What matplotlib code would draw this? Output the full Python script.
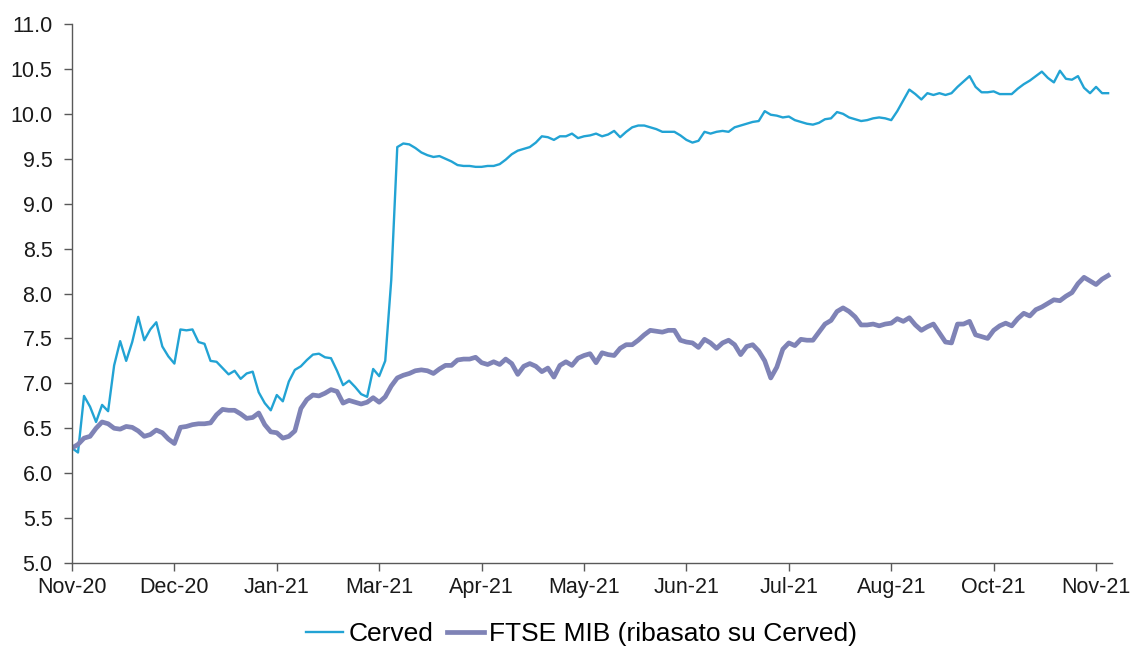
import numpy as np
import matplotlib
matplotlib.use("Agg")
import matplotlib.pyplot as plt

plt.rcParams['font.family'] = ['Liberation Sans', 'DejaVu Sans']

# tick labels shown every 17 points on the category axis
month_labels = ["Nov-20", "Dec-20", "Jan-21", "Mar-21", "Apr-21", "May-21",
                "Jun-21", "Jul-21", "Aug-21", "Oct-21", "Nov-21"]
label_step = 17

# Cerved share price
cerved = [
    6.28, 6.23, 6.86, 6.74, 6.57, 6.76, 6.69, 7.20, 7.47, 7.25,
    7.46, 7.74, 7.48, 7.60, 7.68, 7.41, 7.30, 7.22, 7.60, 7.59,
    7.60, 7.46, 7.44, 7.25, 7.24, 7.17, 7.10, 7.14, 7.05, 7.11,
    7.13, 6.90, 6.78, 6.70, 6.87, 6.80, 7.02, 7.15, 7.19, 7.26,
    7.32, 7.33, 7.29, 7.28, 7.14, 6.98, 7.03, 6.96, 6.88, 6.85,
    7.16, 7.08, 7.25, 8.15, 9.63, 9.67, 9.66, 9.62, 9.57, 9.54,
    9.52, 9.53, 9.50, 9.47, 9.43, 9.42, 9.42, 9.41, 9.41, 9.42,
    9.42, 9.44, 9.49, 9.55, 9.59, 9.61, 9.63, 9.68, 9.75, 9.74,
    9.71, 9.75, 9.75, 9.78, 9.73, 9.75, 9.76, 9.78, 9.75, 9.77,
    9.81, 9.74, 9.80, 9.85, 9.87, 9.87, 9.85, 9.83, 9.80, 9.80,
    9.80, 9.76, 9.71, 9.68, 9.70, 9.80, 9.78, 9.80, 9.81, 9.80,
    9.85, 9.87, 9.89, 9.91, 9.92, 10.03, 9.99, 9.98, 9.96, 9.97,
    9.93, 9.91, 9.89, 9.88, 9.90, 9.94, 9.95, 10.02, 10.00, 9.96,
    9.94, 9.92, 9.93, 9.95, 9.96, 9.95, 9.93, 10.03, 10.15, 10.27,
    10.22, 10.16, 10.23, 10.21, 10.23, 10.21, 10.23, 10.30, 10.36, 10.42,
    10.30, 10.24, 10.24, 10.25, 10.22, 10.22, 10.22, 10.28, 10.33, 10.37,
    10.42, 10.47, 10.40, 10.35, 10.48, 10.39, 10.38, 10.42, 10.29, 10.23,
    10.30, 10.23, 10.23,
]

# FTSE MIB rebased on Cerved
ftse_mib = [
    6.28, 6.32, 6.39, 6.41, 6.50, 6.57, 6.55, 6.50, 6.49, 6.52,
    6.51, 6.47, 6.41, 6.43, 6.48, 6.45, 6.38, 6.33, 6.51, 6.52,
    6.54, 6.55, 6.55, 6.56, 6.65, 6.71, 6.70, 6.70, 6.66, 6.61,
    6.62, 6.67, 6.54, 6.46, 6.45, 6.39, 6.41, 6.47, 6.72, 6.82,
    6.87, 6.86, 6.89, 6.93, 6.91, 6.78, 6.81, 6.79, 6.77, 6.79,
    6.84, 6.79, 6.85, 6.97, 7.06, 7.09, 7.11, 7.14, 7.15, 7.14,
    7.11, 7.16, 7.20, 7.20, 7.26, 7.27, 7.27, 7.29, 7.23, 7.21,
    7.24, 7.21, 7.27, 7.22, 7.10, 7.19, 7.22, 7.19, 7.13, 7.17,
    7.07, 7.20, 7.24, 7.20, 7.28, 7.31, 7.33, 7.23, 7.34, 7.32,
    7.31, 7.39, 7.43, 7.43, 7.48, 7.54, 7.59, 7.58, 7.57, 7.59,
    7.59, 7.48, 7.46, 7.45, 7.40, 7.49, 7.45, 7.39, 7.45, 7.48,
    7.43, 7.32, 7.41, 7.43, 7.36, 7.25, 7.06, 7.18, 7.38, 7.45,
    7.42, 7.49, 7.48, 7.48, 7.57, 7.66, 7.70, 7.80, 7.84, 7.80,
    7.74, 7.65, 7.65, 7.66, 7.64, 7.66, 7.67, 7.72, 7.69, 7.73,
    7.65, 7.59, 7.63, 7.66, 7.56, 7.46, 7.45, 7.66, 7.66, 7.69,
    7.54, 7.52, 7.50, 7.59, 7.64, 7.67, 7.64, 7.72, 7.78, 7.75,
    7.82, 7.85, 7.89, 7.93, 7.92, 7.97, 8.01, 8.11, 8.18, 8.14,
    8.10, 8.16, 8.20,
]

x = np.arange(len(cerved))

fig = plt.figure(figsize=(11.37, 6.49), dpi=100)
ax = fig.add_axes([0.0633, 0.1325, 0.915, 0.8305])

ax.plot(x, cerved, color="#22a3d4", linewidth=1.7, label="Cerved")
ax.plot(x, ftse_mib, color="#7f83b6", linewidth=3.4, label="FTSE MIB (ribasato su Cerved)")

ax.set_ylim(5.0, 11.0)
ax.set_yticks(np.arange(5.0, 11.01, 0.5))
ax.set_yticklabels([f"{v:.1f}" for v in np.arange(5.0, 11.01, 0.5)])
ax.set_xlim(0, 172.7)
ax.set_xticks(np.arange(len(month_labels)) * label_step)
ax.set_xticklabels(month_labels)

for side in ["top", "right"]:
    ax.spines[side].set_visible(False)
for side in ["left", "bottom"]:
    ax.spines[side].set_color("#595959")
    ax.spines[side].set_linewidth(1.0)
ax.tick_params(axis="both", direction="out", length=6, width=1.0, color="#595959",
               labelsize=15.5, labelcolor="#1a1a1a")
ax.tick_params(axis="y", pad=8)
ax.tick_params(axis="x", pad=4)

ax.legend(loc="center", bbox_to_anchor=(0.49, -0.132), ncol=2, frameon=False,
          fontsize=19, handlelength=1.4, handletextpad=0.2, columnspacing=0.5)

fig.savefig("out.png", dpi=100)
